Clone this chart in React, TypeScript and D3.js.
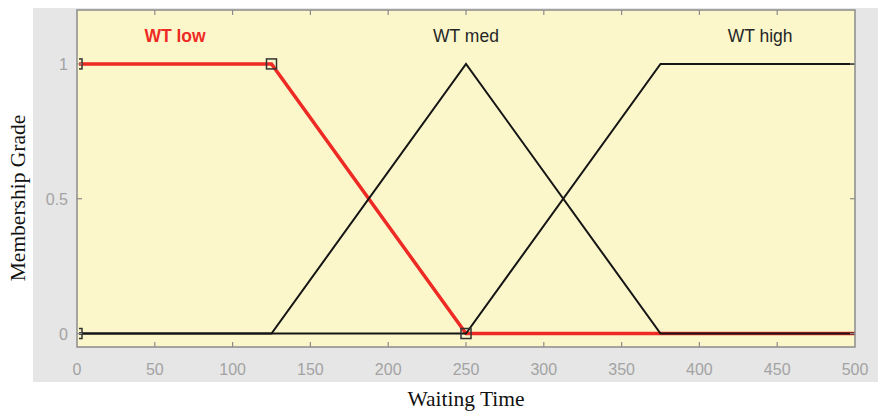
import React, { useRef, useEffect } from 'react';
import * as d3 from 'd3';

// membership functions (x breakpoints, membership values)
const lowX = [0, 0, 125, 250, 500];
const lowY = [0, 1, 1, 0, 0];
const medX = [0, 125, 250, 375, 500];
const medY = [0, 0, 1, 0, 0];
const highX = [0, 250, 375, 500];
const highY = [0, 0, 1, 1];

// square markers on the selected MF (trapmf params 0 0 125 250)
const markX = [0, 0, 125, 250];
const markY = [0, 1, 1, 0];

const mfLabels = ['WT low', 'WT med', 'WT high'];
const mfLabelX = [63, 250, 439];

const xTicks = [0, 50, 100, 150, 200, 250, 300, 350, 400, 450, 500];
const yTicks = [0, 0.5, 1];
const yTickLabels = ['0', '0.5', '1'];

const App = () => {
    const svgRef = useRef(null);

    useEffect(() => {
        const svg = d3.select(svgRef.current);
        svg.selectAll('*').remove();

        const W = 878;
        const plot = { left: 77, right: 855, top: 10, bottom: 347 };

        const x = d3.scaleLinear().domain([0, 500]).range([plot.left, plot.right]);
        const y = d3.scaleLinear().domain([-0.05, 1.2]).range([plot.bottom, plot.top]);

        svg.append('defs').append('clipPath').attr('id', 'plotclip')
            .append('rect')
            .attr('x', plot.left + 2).attr('y', plot.top)
            .attr('width', plot.right - plot.left - 1).attr('height', plot.bottom - plot.top);

        // grey figure panel
        svg.append('rect')
            .attr('x', 33).attr('y', 8)
            .attr('width', W - 33).attr('height', 374)
            .attr('fill', '#e6e6e6');

        // yellow axes area
        svg.append('rect')
            .attr('x', plot.left).attr('y', plot.top)
            .attr('width', plot.right - plot.left).attr('height', plot.bottom - plot.top)
            .attr('fill', '#fbf7cb');

        const line = (xs, ys) => d3.line()
            .x((d, i) => x(xs[i]))
            .y((d, i) => y(ys[i]))(xs);

        const g = svg.append('g').attr('clip-path', 'url(#plotclip)');

        // selected MF (red) drawn first
        g.append('path')
            .attr('d', line(lowX, lowY))
            .attr('fill', 'none')
            .attr('stroke', '#ee2a24')
            .attr('stroke-width', 3.5);

        [[medX, medY], [highX, highY]].forEach(([xs, ys]) => {
            g.append('path')
                .attr('d', line(xs, ys))
                .attr('fill', 'none')
                .attr('stroke', '#151515')
                .attr('stroke-width', 2);
        });

        // markers
        g.selectAll('rect.mark')
            .data(markX)
            .join('rect')
            .attr('class', 'mark')
            .attr('x', (d) => x(d) - 5)
            .attr('y', (d, i) => y(markY[i]) - 5)
            .attr('width', 10)
            .attr('height', 10)
            .attr('fill', 'none')
            .attr('stroke', '#333')
            .attr('stroke-width', 1.5);

        // MF names
        svg.append('g')
            .selectAll('text')
            .data(mfLabels)
            .join('text')
            .attr('x', (d, i) => x(mfLabelX[i]))
            .attr('y', y(1.1) + 5)
            .attr('text-anchor', 'middle')
            .attr('font-family', 'Arial, "Liberation Sans", sans-serif')
            .attr('font-size', 17.5)
            .attr('font-weight', (d, i) => (i === 0 ? 'bold' : 'normal'))
            .attr('fill', (d, i) => (i === 0 ? '#ee2a24' : '#262626'))
            .text((d) => d);

        // axes box
        svg.append('rect')
            .attr('x', plot.left).attr('y', plot.top)
            .attr('width', plot.right - plot.left).attr('height', plot.bottom - plot.top)
            .attr('fill', 'none')
            .attr('stroke', '#8c8c8c')
            .attr('stroke-width', 1.5);

        // inward ticks
        const tk = svg.append('g').attr('stroke', '#8c8c8c').attr('stroke-width', 1.2);
        xTicks.slice(1, -1).forEach((t) => {
            tk.append('line').attr('x1', x(t)).attr('x2', x(t))
                .attr('y1', plot.bottom).attr('y2', plot.bottom - 5);
            tk.append('line').attr('x1', x(t)).attr('x2', x(t))
                .attr('y1', plot.top).attr('y2', plot.top + 5);
        });
        yTicks.forEach((t) => {
            tk.append('line').attr('x1', plot.left).attr('x2', plot.left + 5)
                .attr('y1', y(t)).attr('y2', y(t));
            tk.append('line').attr('x1', plot.right).attr('x2', plot.right - 5)
                .attr('y1', y(t)).attr('y2', y(t));
        });

        // tick labels
        svg.append('g')
            .selectAll('text')
            .data(xTicks)
            .join('text')
            .attr('x', (d) => x(d))
            .attr('y', 375)
            .attr('text-anchor', 'middle')
            .attr('font-family', 'Arial, "Liberation Sans", sans-serif')
            .attr('font-size', 16)
            .attr('fill', '#a3a3a3')
            .text((d) => d);

        svg.append('g')
            .selectAll('text')
            .data(yTicks)
            .join('text')
            .attr('x', 68)
            .attr('y', (d) => y(d) + 6)
            .attr('text-anchor', 'end')
            .attr('font-family', 'Arial, "Liberation Sans", sans-serif')
            .attr('font-size', 16)
            .attr('fill', '#a3a3a3')
            .text((d, i) => yTickLabels[i]);

        // axis titles
        svg.append('text')
            .attr('x', (plot.left + plot.right) / 2)
            .attr('y', 406)
            .attr('text-anchor', 'middle')
            .attr('font-family', '"Liberation Serif", "Times New Roman", serif')
            .attr('font-size', 21.5)
            .attr('fill', '#111')
            .text('Waiting Time');

        svg.append('text')
            .attr('transform', 'translate(25,198) rotate(-90)')
            .attr('text-anchor', 'middle')
            .attr('font-family', '"Liberation Serif", "Times New Roman", serif')
            .attr('font-size', 21.5)
            .attr('fill', '#111')
            .text('Membership Grade');
    }, []);

    return (
        <svg ref={svgRef} width={878} height={413}
            style={{ position: 'absolute', left: 0, top: 0, background: '#fff' }} />
    );
};

export default App;
